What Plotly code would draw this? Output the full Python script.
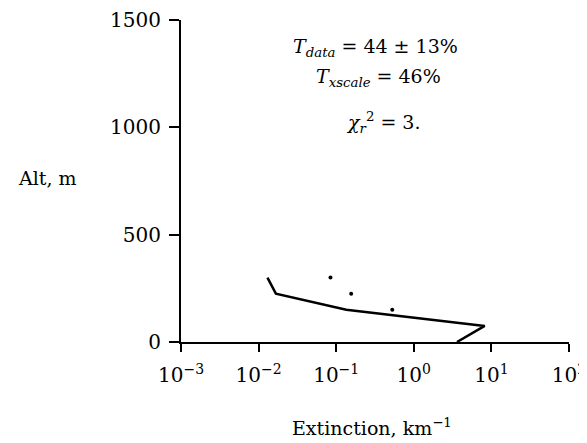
import plotly.graph_objects as go

# Data
line_ext = [0.013, 0.0167, 0.135, 8.2, 3.6]
line_alt = [300, 225, 150, 75, 0]
dot_ext = [0.0844, 0.156, 0.528]
dot_alt = [300, 225, 150]

x_tickvals = [1e-3, 1e-2, 1e-1, 1, 10, 100]
x_ticktext = ["10<sup>−3</sup>", "10<sup>−2</sup>", "10<sup>−1</sup>",
              "10<sup>0</sup>", "10<sup>1</sup>", "10<sup>2</sup>"]
y_tickvals = [0, 500, 1000, 1500]
y_ticktext = ["0", "500", "1000", "1500"]

FONT = "DejaVu Serif"

fig = go.Figure()
fig.add_trace(go.Scatter(x=line_ext, y=line_alt, mode="lines",
                         line=dict(color="black", width=2.5),
                         cliponaxis=False, showlegend=False))
fig.add_trace(go.Scatter(x=dot_ext, y=dot_alt, mode="markers",
                         marker=dict(color="black", size=4),
                         cliponaxis=False, showlegend=False))

# the page adds an 8px body margin, so the margins are shifted to compensate
fig.update_layout(
    width=587, height=443,
    margin=dict(l=173, r=26, t=12, b=109),
    paper_bgcolor="white", plot_bgcolor="white",
    font=dict(family=FONT, color="black", size=20),
    showlegend=False,
)
fig.update_xaxes(type="log", range=[-3, 2], tickvals=x_tickvals, ticktext=x_ticktext,
                 automargin=False,
                 showgrid=False, zeroline=False, showline=True, linecolor="black",
                 linewidth=2, ticks="outside", ticklen=8, tickwidth=2, tickcolor="black",
                 ticklabelstandoff=6, tickfont=dict(size=20, family=FONT))
fig.update_yaxes(range=[0, 1500], tickvals=y_tickvals, ticktext=y_ticktext,
                 automargin=False,
                 showgrid=False, zeroline=False, showline=True, linecolor="black",
                 linewidth=2, ticks="outside", ticklen=10, tickwidth=2, tickcolor="black",
                 ticklabelstandoff=4, tickfont=dict(size=20, family=FONT))

ann = [
    ("<i>T</i><sub><i>data</i></sub> = 44 ± 13%", 0.50, 0.916),
    ("<i>T</i><sub><i>xscale</i></sub> = 46%", 0.508, 0.820),
    ("<i>χ</i><sub><i>r</i></sub><sup>2</sup> = 3.", 0.52, 0.683),
    ("Alt, m", -0.345, 0.509),
    ("Extinction, km<sup>−1</sup>", 0.492, -0.264),
]
for text, x, y in ann:
    fig.add_annotation(text=text, x=x, y=y, xref="paper", yref="paper",
                       xanchor="center", yanchor="middle", showarrow=False,
                       font=dict(family=FONT, size=19, color="black"))

fig.write_html("out.html")
